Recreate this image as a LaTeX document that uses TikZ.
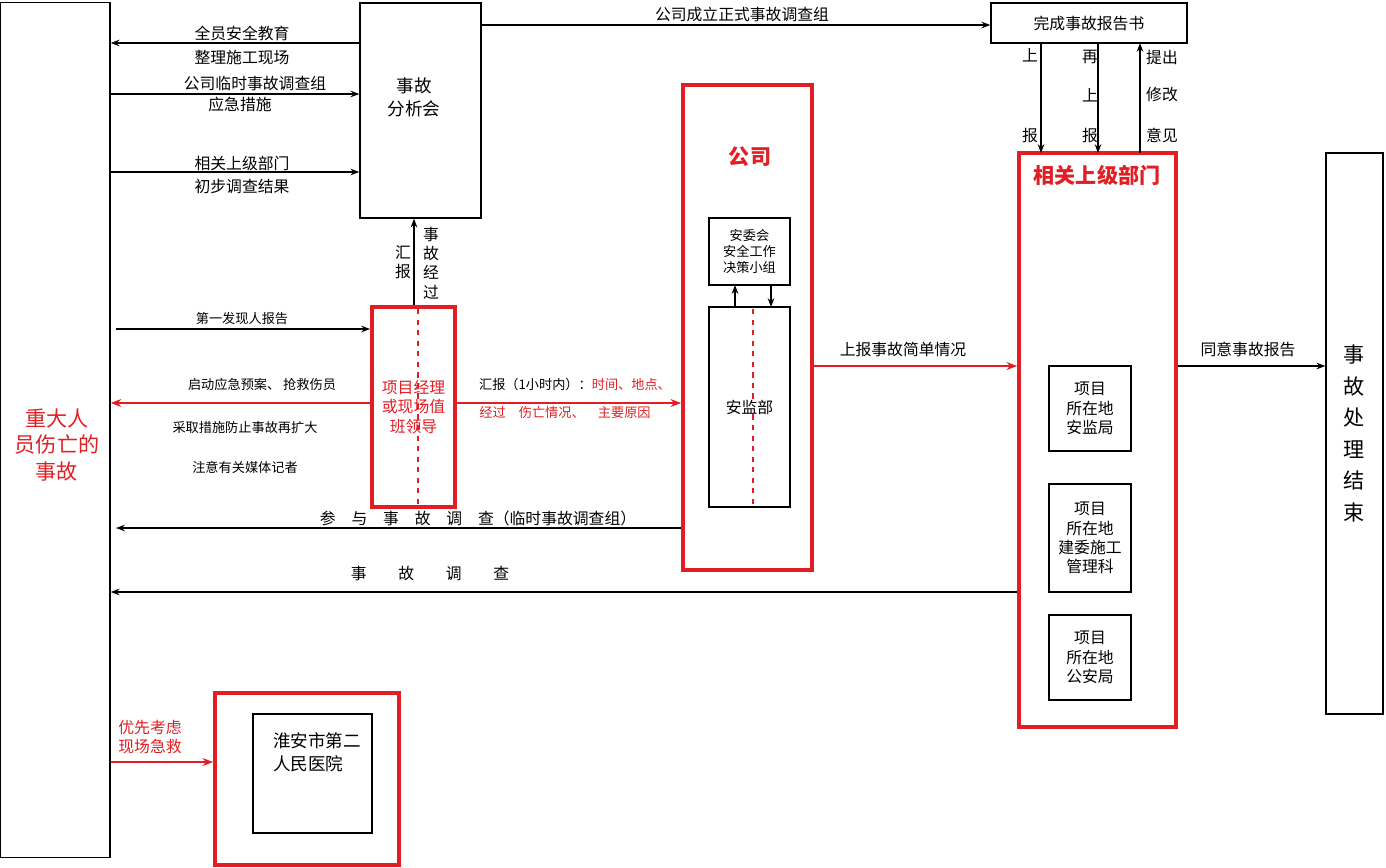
\documentclass[tikz,border=0pt]{standalone}
\usepackage{fontspec}
\setmainfont{Noto Sans CJK SC}
\usetikzlibrary{arrows.meta}
\definecolor{hred}{RGB}{225,30,35}
\tikzset{
  box/.style={draw,thick,rectangle,inner sep=0pt},
  redbox/.style={draw=hred,line width=2.2pt,rectangle,inner sep=0pt},
  txt/.style={font=\fontsize{9}{11}\selectfont,inner sep=1pt,align=center},
  small/.style={font=\fontsize{7.5}{9}\selectfont,inner sep=1pt,align=center},
  arr/.style={-{Stealth[length=5pt]},thick},
  rarr/.style={-{Stealth[length=6pt]},line width=1.6pt,draw=hred}
}
\begin{document}
\begin{tikzpicture}[x=0.02cm,y=-0.02cm]
\useasboundingbox (0,0) rectangle (1386,867);

% boxes
\node[box,minimum width=2.2cm,minimum height=17.1cm] (victim) at (55,430) {};
\node[txt,text=hred,font=\fontsize{12}{15}\selectfont] at (57,445) {重大人\\员伤亡的\\事故};
\node[box,minimum width=2.42cm,minimum height=4.3cm] (ana) at (420.5,110.5) {};
\node[txt,font=\fontsize{10}{13}\selectfont] at (414,97) {事故\\分析会};
\node[box,minimum width=3.92cm,minimum height=0.8cm,txt] (rep) at (1089,23) {完成事故报告书};
\node[redbox,minimum width=2.58cm,minimum height=9.7cm] (corp) at (747.5,327.5) {};
\node[txt,text=hred,font=\bfseries\fontsize{12}{15}\selectfont] at (750,157) {公司};
\node[box,minimum width=1.62cm,minimum height=1.34cm,small] (acw) at (749.5,251.5) {安委会\\安全工作\\决策小组};
\node[box,minimum width=1.62cm,minimum height=4.0cm] (ajb) at (749.5,407) {};
\draw[hred,dashed,thick] (753,309) -- (753,505);
\node[txt,fill=white,inner sep=0pt] at (749.5,407) {安监部};
\node[redbox,minimum width=1.66cm,minimum height=4.0cm] (pm) at (413.5,407) {};
\draw[hred,dashed,thick] (418,309) -- (418,505);
\node[txt,text=hred] at (413.5,407) {项目经理\\或现场值\\班领导};
\node[redbox,minimum width=3.14cm,minimum height=11.48cm] (dept) at (1097.5,440) {};
\node[txt,text=hred,font=\bfseries\fontsize{12}{15}\selectfont] at (1097,175) {相关上级部门};
\node[box,minimum width=1.64cm,minimum height=1.7cm,txt] (b1) at (1090,408.5) {项目\\所在地\\安监局};
\node[box,minimum width=1.64cm,minimum height=2.16cm,txt] (b2) at (1090,538) {项目\\所在地\\建委施工\\管理科};
\node[box,minimum width=1.64cm,minimum height=1.7cm,txt] (b3) at (1090,657.5) {项目\\所在地\\公安局};
\node[box,minimum width=1.14cm,minimum height=11.22cm] (end) at (1354.5,433.5) {};
\node[txt,font=\fontsize{12}{18}\selectfont] at (1354.5,433.5) {事\\故\\处\\理\\结\\束};
\node[redbox,minimum width=3.68cm,minimum height=3.44cm] (hosp) at (307,779) {};
\node[box,minimum width=2.38cm,minimum height=2.38cm] (hospin) at (312.5,773.5) {};
\node[txt,font=\fontsize{10}{13}\selectfont,align=left] at (317,752) {淮安市第二\\人民医院};

% connectors
\draw[arr] (ana.west|-0,43) -- (victim.east|-0,43);
\node[txt] at (242,33) {全员安全教育};
\node[txt] at (242,57) {整理施工现场};
\draw[arr] (victim.east|-0,94) -- (ana.west|-0,94);
\node[txt] at (255,83) {公司临时事故调查组};
\node[txt] at (240,104) {应急措施};
\draw[arr] (victim.east|-0,172) -- (ana.west|-0,172);
\node[txt] at (242,163) {相关上级部门};
\node[txt] at (242,186) {初步调查结果};
\draw[arr] (ana.east|-0,25) -- (rep.west|-0,25);
\node[txt] at (742,14) {公司成立正式事故调查组};
\draw[arr] (1041,43) -- (1041,153);
\node[txt] at (1030,55) {上};
\node[txt] at (1030,135) {报};
\draw[arr] (1098,43) -- (1098,153);
\node[txt] at (1090,57) {再};
\node[txt] at (1090,95) {上};
\node[txt] at (1090,135) {报};
\draw[arr] (1140,153) -- (1140,43);
\node[txt] at (1162,57) {提出};
\node[txt] at (1162,95) {修改};
\node[txt] at (1162,135) {意见};
\draw[arr] (pm.north-|414,0) -- (ana.south-|414,0);
\node[txt] at (403,262) {汇\\报};
\node[txt] at (431,263) {事\\故\\经\\过};
\draw[arr] (116,329) -- (pm.west|-0,329);
\node[small] at (242,319) {第一发现人报告};
\draw[rarr] (pm.west|-0,403) -- (victim.east|-0,403);
\node[small] at (262,384) {启动应急预案、 抢救伤员};
\node[small] at (245,428) {采取措施防止事故再扩大};
\node[small] at (245,467) {注意有关媒体记者};
\draw[rarr] (pm.east|-0,403) -- (corp.west|-0,403);
\node[small] at (575,384) {汇报（1小时内）：\textcolor{hred}{时间、地点、}};
\node[small,text=hred] at (565,412) {经过\quad 伤亡情况、\quad 主要原因};
\draw[arr] (735,307) -- (735,285);
\draw[arr] (771,285) -- (771,307);
\draw[rarr] (corp.east|-0,366) -- (dept.west|-0,366);
\node[txt] at (903,349) {上报事故简单情况};
\draw[arr] (dept.east|-0,366) -- (end.west|-0,366);
\node[txt] at (1248,349) {同意事故报告};
\draw[arr] (corp.west|-0,528) -- (116,528);
\node[txt] at (478,518) {参\quad 与\quad 事\quad 故\quad 调\quad 查（临时事故调查组）};
\draw[arr] (dept.west|-0,592) -- (victim.east|-0,592);
\node[txt] at (430,573) {事\qquad 故\qquad 调\qquad 查};
\draw[rarr] (victim.east|-0,762) -- (hosp.west|-0,762);
\node[txt,text=hred,align=left] at (150,737) {优先考虑\\现场急救};
\end{tikzpicture}
\end{document}
